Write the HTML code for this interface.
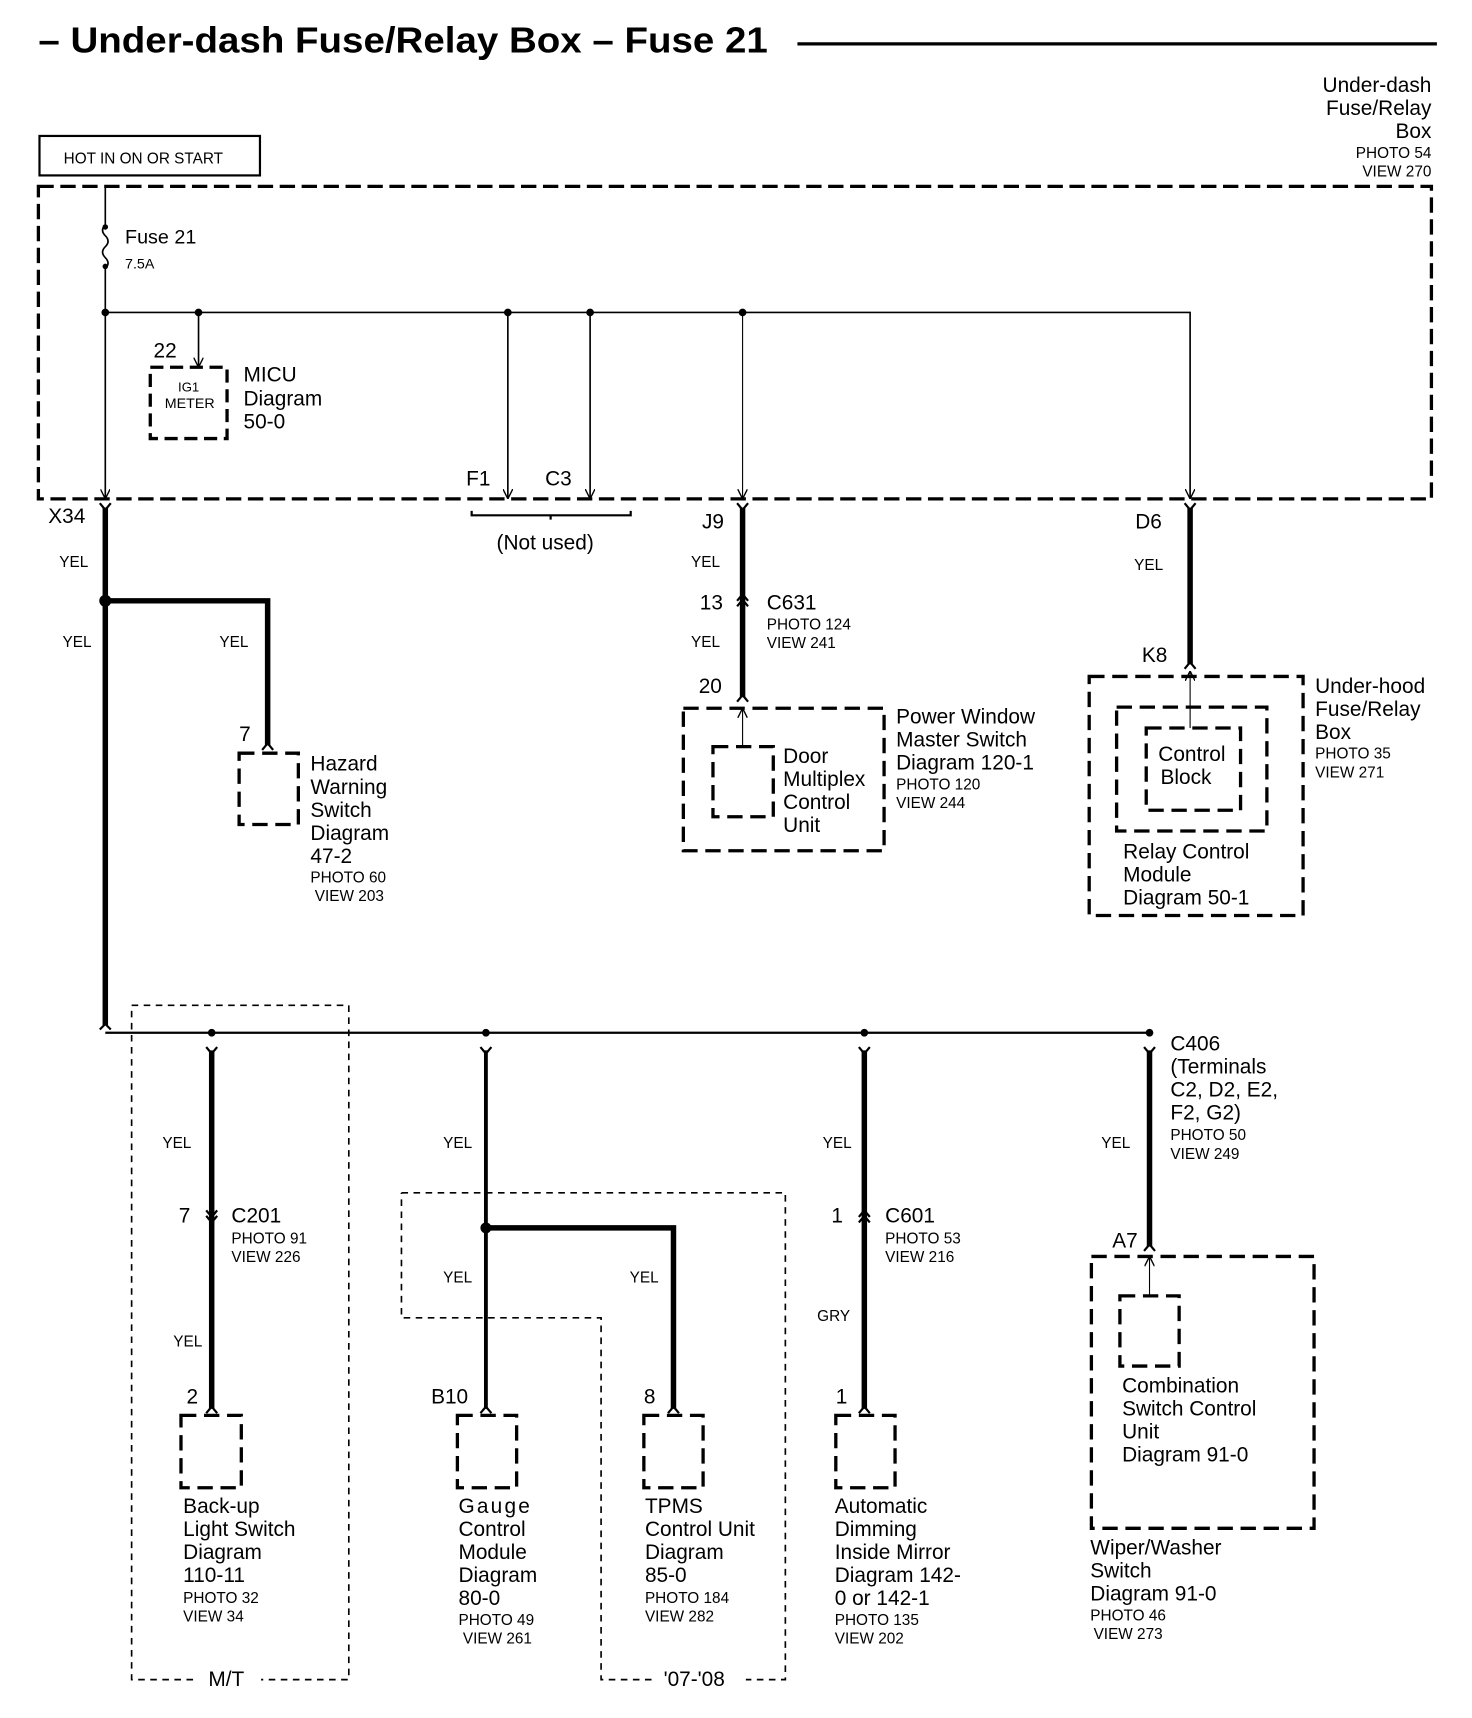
<!DOCTYPE html>
<html><head><meta charset="utf-8"><style>
html,body{margin:0;padding:0;background:#fff;}
svg{display:block}
text{font-family:"Liberation Sans",Arial,sans-serif;fill:#000}
.l{font-size:19px}.s{font-size:14px}
</style></head><body>
<svg width="1472" height="1718" viewBox="0 0 1342 1567" preserveAspectRatio="none" xmlns="http://www.w3.org/2000/svg">
<defs>
<marker id="ar" viewBox="0 0 10 10" refX="10" refY="5" markerWidth="9" markerHeight="9" orient="auto-start-reverse" markerUnits="userSpaceOnUse"><path d="M0,0 L10,5 L0,10" fill="none" stroke="#000" stroke-width="1.4"/></marker>
</defs>
<g fill="none" stroke="#000">
<line x1="727" y1="40" x2="1310" y2="40" stroke-width="3"/>
<rect x="36" y="124" width="201" height="36" stroke-width="2"/>
<rect x="35" y="170" width="1270" height="285" stroke-width="3" stroke-dasharray="14 6"/>
<path d="M96,170 V205 M96,245 V455" stroke-width="1.5" marker-end="url(#ar)"/>
<path d="M96,205 q-5,5 0,10 q5,5 0,10 q-5,5 0,10 q5,5 0,10" stroke-width="1.5"/>
<circle cx="96" cy="207" r="2" fill="#000"/><circle cx="96" cy="243" r="2" fill="#000"/>
<path d="M96,285 H1085 V455" stroke-width="1.5" marker-end="url(#ar)"/>
<g fill="#000"><circle cx="96" cy="285" r="3"/><circle cx="181" cy="285" r="3"/><circle cx="463" cy="285" r="3"/><circle cx="538" cy="285" r="3"/><circle cx="677" cy="285" r="3"/></g>
<path d="M181,285 V335" stroke-width="1.5" marker-end="url(#ar)"/>
<path d="M463,285 V455" stroke-width="1.5" marker-end="url(#ar)"/>
<path d="M538,285 V455" stroke-width="1.5" marker-end="url(#ar)"/>
<path d="M677,285 V455" stroke-width="1" marker-end="url(#ar)"/>
<rect x="137" y="335" width="70" height="65" stroke-width="3" stroke-dasharray="12 6"/>
<path d="M430,466 v4 H575 v-4 M502,470 v4" stroke-width="2"/>
<g stroke-width="2">
<path d="M91,459 L96,465 L101,459"/><path d="M672,459 L677,465 L682,459"/><path d="M1080,459 L1085,465 L1090,459"/>
<path d="M672,553 L677,547 L682,553"/><path d="M672,548 L677,542 L682,548"/>
<path d="M672,640 L677,634 L682,640"/><path d="M1080,610 L1085,604 L1090,610"/><path d="M239,684 L244,678 L249,684"/>
<path d="M188,955 L193,961 L198,955"/><path d="M438,955 L443,961 L448,955"/><path d="M783,955 L788,961 L793,955"/><path d="M1043,955 L1048,961 L1053,955"/>
<path d="M188,1104 L193,1110 L198,1104"/><path d="M188,1109 L193,1115 L198,1109"/>
<path d="M783,1110 L788,1104 L793,1110"/><path d="M783,1115 L788,1109 L793,1115"/>
<path d="M188,1289 L193,1283 L198,1289"/><path d="M438,1289 L443,1283 L448,1289"/><path d="M609,1289 L614,1283 L619,1289"/><path d="M783,1289 L788,1283 L793,1289"/><path d="M1043,1141 L1048,1135 L1053,1141"/>
</g>
<g stroke-width="5">
<path d="M96,463 V935"/><path d="M96,548 H244 V680"/>
<path d="M677,463 V636"/><path d="M1085,463 V606"/>
<path d="M193,958 V1285"/><path d="M788,958 V1285"/><path d="M1048,958 V1137"/>
<path d="M443,1120 H614 V1285"/>
</g>
<path d="M443,958 V1285" stroke-width="3.5"/>
<circle cx="96" cy="548" r="5" fill="#000"/><circle cx="443" cy="1120" r="5" fill="#000" stroke="none"/>
<g stroke-width="3" stroke-dasharray="14 7">
<rect x="218" y="687" width="54" height="65"/>
<rect x="623" y="646" width="183" height="130"/>
<rect x="650" y="681" width="55" height="64"/>
<rect x="993" y="617" width="195" height="218"/>
<rect x="1018" y="645" width="137" height="113"/>
<rect x="1045" y="664" width="86" height="75"/>
<rect x="165" y="1291" width="55" height="66"/>
<rect x="417" y="1291" width="54" height="66"/>
<rect x="587" y="1291" width="54" height="66"/>
<rect x="762" y="1291" width="54" height="66"/>
<rect x="995" y="1146" width="203" height="248"/>
<rect x="1021" y="1182" width="54" height="64"/>
</g>
<path d="M677,681 V646" stroke-width="1" marker-end="url(#ar)"/>
<path d="M1085,664 V612" stroke-width="1" marker-end="url(#ar)"/>
<path d="M1048,1182 V1146" stroke-width="1" marker-end="url(#ar)"/>
<path d="M96,942 H1048" stroke-width="2"/>
<g fill="#000"><circle cx="193" cy="942" r="3"/><circle cx="443" cy="942" r="3"/><circle cx="788" cy="942" r="3"/><circle cx="1048" cy="942" r="3"/></g>
<path d="M91,939 L96,934 L101,939" stroke-width="2"/>
<g stroke-width="1.5" stroke-dasharray="6 5">
<path d="M120,917 H318 V1532 H238 M176,1532 H120 V917"/>
<path d="M366,1088 H716 V1532 H680 M594,1532 H548 V1202 H366 V1088"/>
</g>
</g>
<text x="35" y="48" style="font-size:33px;font-weight:bold" textLength="665" lengthAdjust="spacingAndGlyphs">– Under-dash Fuse/Relay Box – Fuse 21</text>
<g class="l" text-anchor="end"><text x="1305" y="84">Under-dash</text><text x="1305" y="105">Fuse/Relay</text><text x="1305" y="126">Box</text></g>
<g class="s" text-anchor="end"><text x="1305" y="144">PHOTO 54</text><text x="1305" y="161">VIEW 270</text></g>
<text x="58" y="149" class="s">HOT IN ON OR START</text>
<text x="114" y="222" style="font-size:18px">Fuse 21</text><text x="114" y="245" style="font-size:13px">7.5A</text>
<text x="140" y="326" class="l">22</text>
<text x="172" y="357" style="font-size:12px" text-anchor="middle">IG1</text><text x="173" y="372" style="font-size:13px" text-anchor="middle">METER</text>
<g class="l"><text x="222" y="348">MICU</text><text x="222" y="370">Diagram</text><text x="222" y="391">50-0</text>
<text x="425" y="443">F1</text><text x="497" y="443">C3</text>
<text x="497" y="501" text-anchor="middle">(Not used)</text>
<text x="44" y="477">X34</text><text x="640" y="482">J9</text><text x="1035" y="482">D6</text>
<text x="638" y="556">13</text><text x="699" y="556">C631</text><text x="637" y="632">20</text><text x="1041" y="604">K8</text>
<text x="218" y="676">7</text>
<text x="283" y="703">Hazard</text><text x="283" y="724">Warning</text><text x="283" y="745">Switch</text><text x="283" y="766">Diagram</text><text x="283" y="787">47-2</text>
<text x="714" y="696">Door</text><text x="714" y="717">Multiplex</text><text x="714" y="738">Control</text><text x="714" y="759">Unit</text>
<text x="817" y="660">Power Window</text><text x="817" y="681">Master Switch</text><text x="817" y="702">Diagram 120-1</text>
<text x="1056" y="694">Control</text><text x="1058" y="715">Block</text>
<text x="1024" y="783">Relay Control</text><text x="1024" y="804">Module</text><text x="1024" y="825">Diagram 50-1</text>
<text x="1199" y="632">Under-hood</text><text x="1199" y="653">Fuse/Relay</text><text x="1199" y="674">Box</text>
<text x="163" y="1115">7</text><text x="211" y="1115">C201</text>
<text x="758" y="1115">1</text><text x="807" y="1115">C601</text>
<text x="1067" y="958">C406</text><text x="1067" y="979">(Terminals</text><text x="1067" y="1000">C2, D2, E2,</text><text x="1067" y="1021">F2, G2)</text>
<text x="1014" y="1138">A7</text>
<text x="170" y="1280">2</text><text x="393" y="1280">B10</text><text x="587" y="1280">8</text><text x="762" y="1280">1</text>
<text x="1023" y="1270">Combination</text><text x="1023" y="1291">Switch Control</text><text x="1023" y="1312">Unit</text><text x="1023" y="1333">Diagram 91-0</text>
<text x="167" y="1380">Back-up</text><text x="167" y="1401">Light Switch</text><text x="167" y="1422">Diagram</text><text x="167" y="1443">110-11</text>
<text x="418" y="1380" letter-spacing="2">Gauge</text><text x="418" y="1401">Control</text><text x="418" y="1422">Module</text><text x="418" y="1443">Diagram</text><text x="418" y="1464">80-0</text>
<text x="588" y="1380">TPMS</text><text x="588" y="1401">Control Unit</text><text x="588" y="1422">Diagram</text><text x="588" y="1443">85-0</text>
<text x="761" y="1380">Automatic</text><text x="761" y="1401">Dimming</text><text x="761" y="1422">Inside Mirror</text><text x="761" y="1443">Diagram 142-</text><text x="761" y="1464">0 or 142-1</text>
<text x="994" y="1418">Wiper/Washer</text><text x="994" y="1439">Switch</text><text x="994" y="1460">Diagram 91-0</text>
<text x="190" y="1538">M/T</text><text x="605" y="1538">'07-'08</text>
</g>
<g class="s">
<text x="54" y="517">YEL</text><text x="57" y="590">YEL</text><text x="200" y="590">YEL</text>
<text x="630" y="517">YEL</text><text x="630" y="590">YEL</text><text x="1034" y="520">YEL</text>
<text x="699" y="574">PHOTO 124</text><text x="699" y="591">VIEW 241</text>
<text x="283" y="805">PHOTO 60</text><text x="287" y="822">VIEW 203</text>
<text x="817" y="720">PHOTO 120</text><text x="817" y="737">VIEW 244</text>
<text x="1199" y="692">PHOTO 35</text><text x="1199" y="709">VIEW 271</text>
<text x="1067" y="1040">PHOTO 50</text><text x="1067" y="1057">VIEW 249</text>
<text x="148" y="1047">YEL</text><text x="404" y="1047">YEL</text><text x="750" y="1047">YEL</text><text x="1004" y="1047">YEL</text>
<text x="211" y="1134">PHOTO 91</text><text x="211" y="1151">VIEW 226</text>
<text x="807" y="1134">PHOTO 53</text><text x="807" y="1151">VIEW 216</text>
<text x="404" y="1170">YEL</text><text x="574" y="1170">YEL</text><text x="745" y="1205">GRY</text><text x="158" y="1228">YEL</text>
<text x="167" y="1462">PHOTO 32</text><text x="167" y="1479">VIEW 34</text>
<text x="418" y="1482">PHOTO 49</text><text x="422" y="1499">VIEW 261</text>
<text x="588" y="1462">PHOTO 184</text><text x="588" y="1479">VIEW 282</text>
<text x="761" y="1482">PHOTO 135</text><text x="761" y="1499">VIEW 202</text>
<text x="994" y="1478">PHOTO 46</text><text x="997" y="1495">VIEW 273</text>
</g>
</svg>
</body></html>
